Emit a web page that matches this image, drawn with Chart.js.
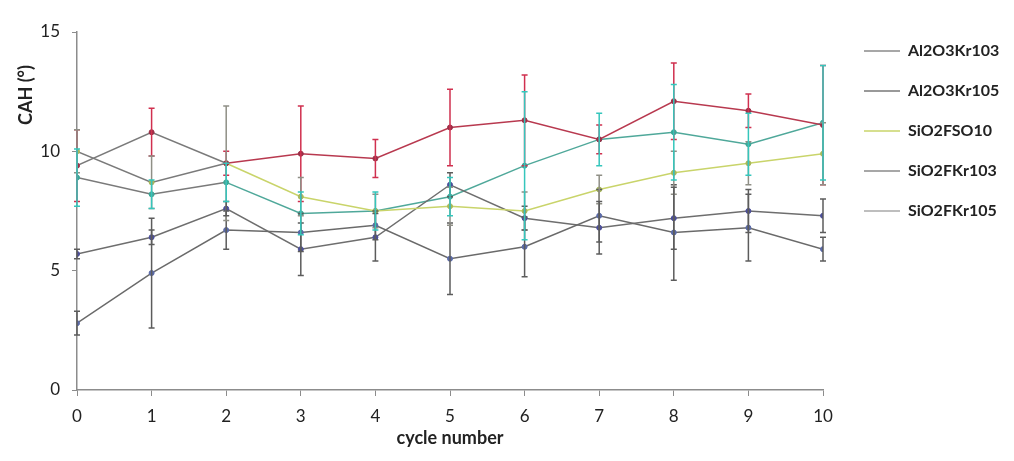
<!DOCTYPE html>
<html>
<head>
<meta charset="utf-8">
<script src="https://cdn.jsdelivr.net/npm/chart.js@4.4.0/dist/chart.umd.min.js"></script>
<style>
  html, body { margin: 0; padding: 0; background: #fff; }
</style>
</head>
<body>
<canvas id="chart" width="1014" height="461"></canvas>
<script>
// values
const cycles = [0, 1, 2, 3, 4, 5, 6, 7, 8, 9, 10];
const seriesNames = ["Al2O3Kr103", "Al2O3Kr105", "SiO2FSO10", "SiO2FKr103", "SiO2FKr105"];

const al2o3Kr103 = [2.8, 4.9, 6.7, 6.6, 6.9, 5.5, 6.0, 7.3, 6.6, 6.8, 5.9];
const al2o3Kr103Err = [0.5, 2.3, 0.8, 0.8, 0.6, 1.5, 1.25, 1.1, 2.0, 1.4, 0.5];

const al2o3Kr105 = [9.4, 10.8, 9.5, 9.9, 9.7, 11.0, 11.3, 10.5, 12.1, 11.7, 11.1];
const al2o3Kr105Err = [1.5, 1.0, 0.5, 2.0, 0.8, 1.6, 1.9, 0.6, 1.6, 0.7, 2.5];

const sio2Fso10 = [10.0, 8.7, 9.5, 8.1, 7.5, 7.7, 7.5, 8.4, 9.1, 9.5, 9.9];
const sio2Fso10Err = [0.9, 1.1, 2.4, 0.8, 0.7, 0.8, 0.8, 0.6, 0.9, 0.9, 1.3];

const sio2FKr103 = [5.7, 6.4, 7.6, 5.9, 6.4, 8.6, 7.2, 6.8, 7.2, 7.5, 7.3];
const sio2FKr103Err = [0.2, 0.3, 0.3, 1.1, 1.0, 0.5, 0.5, 1.1, 1.3, 0.9, 0.7];

const sio2FKr105 = [8.9, 8.2, 8.7, 7.4, 7.5, 8.1, 9.4, 10.5, 10.8, 10.3, 11.2];
const sio2FKr105Err = [1.2, 0.6, 0.8, 0.9, 0.8, 0.8, 3.1, 1.1, 2.0, 1.3, 2.4];

const yTicks = [0, 5, 10, 15];

const GRAY = "#7a7a7a";
const AXIS = "#8c8c8c";
const FONT = "Lato, 'Open Sans', sans-serif";

const toPoints = vals => vals.map((v, i) => ({ x: cycles[i], y: v }));

// left part of the reference is washed out to grey
const colourFrom2 = col => ({ borderColor: c => (c.p0DataIndex >= 2 ? col : GRAY) });

const errorBars = {
  id: "errorBars",
  afterDatasetsDraw(chart) {
    const ctx = chart.ctx;
    const y = chart.scales.y;
    chart.data.datasets.forEach((ds, i) => {
      const meta = chart.getDatasetMeta(i);
      ctx.save();
      ctx.strokeStyle = ds.errorColor;
      ctx.lineWidth = 1.5;
      meta.data.forEach((pt, j) => {
        const v = ds.data[j].y;
        const e = ds.errors[j];
        const top = y.getPixelForValue(v + e);
        const bot = y.getPixelForValue(v - e);
        ctx.beginPath();
        ctx.moveTo(pt.x, top);
        ctx.lineTo(pt.x, bot);
        ctx.moveTo(pt.x - 3, top);
        ctx.lineTo(pt.x + 3, top);
        ctx.moveTo(pt.x - 3, bot);
        ctx.lineTo(pt.x + 3, bot);
        ctx.stroke();
      });
      ctx.restore();
    });
  }
};

const yTitle = {
  id: "yTitle",
  afterDraw(chart) {
    const ctx = chart.ctx;
    ctx.save();
    ctx.translate(26, 95);
    ctx.rotate(-Math.PI / 2);
    ctx.font = "bold 18px " + FONT;
    ctx.fillStyle = "#222";
    ctx.textAlign = "center";
    ctx.textBaseline = "middle";
    ctx.fillText("CAH (°)", 0, 0);
    ctx.restore();
  }
};

const datasets = [
  {
    label: seriesNames[0], data: toPoints(al2o3Kr103), errors: al2o3Kr103Err,
    borderColor: "#6a6a6a", pointBackgroundColor: "#5a6aa8", pointBorderColor: "#5a6aa8",
    errorColor: "#5c5c5c", legendColor: "#8a8a8a"
  },
  {
    label: seriesNames[1], data: toPoints(al2o3Kr105), errors: al2o3Kr105Err,
    borderColor: GRAY, segment: colourFrom2("#b8394f"),
    pointBackgroundColor: "#9a3048", pointBorderColor: "#9a3048",
    errorColor: "#d0304f", legendColor: "#777777"
  },
  {
    label: seriesNames[2], data: toPoints(sio2Fso10), errors: sio2Fso10Err,
    borderColor: "#c9d46a", segment: colourFrom2("#c9d46a"),
    pointBackgroundColor: "#a8b85a", pointBorderColor: "#a8b85a",
    errorColor: "#8f8f86", legendColor: "#c9d46a"
  },
  {
    label: seriesNames[3], data: toPoints(sio2FKr103), errors: sio2FKr103Err,
    borderColor: "#6e6e6e", pointBackgroundColor: "#4c4f9a", pointBorderColor: "#4c4f9a",
    errorColor: "#5c5c5c", legendColor: "#8a8a8a"
  },
  {
    label: seriesNames[4], data: toPoints(sio2FKr105), errors: sio2FKr105Err,
    borderColor: GRAY, segment: colourFrom2("#4fa89a"),
    pointBackgroundColor: "#3aa898", pointBorderColor: "#3aa898",
    errorColor: "#35c6bc", legendColor: "#a8a8a8"
  }
].map(ds => Object.assign({ borderWidth: 1.5, pointRadius: 2.5, pointBorderWidth: 1, tension: 0 }, ds));

new Chart(document.getElementById("chart").getContext("2d"), {
  type: "line",
  data: { datasets },
  options: {
    responsive: false,
    animation: false,
    layout: { padding: { top: 0, left: 0, bottom: 0, right: 6 } },
    plugins: {
      title: { display: true, text: "", fullSize: false, padding: 0, font: { size: 32, lineHeight: 1 } },
      legend: {
        position: "right",
        align: "start",
        title: { display: true, text: " ", padding: 0, font: { size: 19, lineHeight: 1 } },
        labels: {
          usePointStyle: true,
          pointStyle: "line",
          pointStyleWidth: 36,
          padding: 24,
          color: "#222",
          font: { family: FONT, size: 16, weight: "bold" },
          generateLabels: chart => {
            const items = Chart.defaults.plugins.legend.labels.generateLabels(chart);
            items.forEach(it => {
              it.strokeStyle = chart.data.datasets[it.datasetIndex].legendColor;
              it.lineWidth = 1.5;
            });
            return items;
          }
        }
      },
      tooltip: { enabled: false }
    },
    scales: {
      x: {
        type: "linear",
        min: 0,
        max: 10,
        ticks: { stepSize: 1, padding: 10, color: "#222", font: { family: FONT, size: 17 } },
        grid: { drawOnChartArea: false, drawTicks: true, tickLength: 6, color: AXIS },
        border: { color: AXIS, width: 1.5 },
        title: {
          display: true, text: "cycle number", color: "#222",
          font: { family: FONT, size: 18, weight: "bold" }, padding: { top: 0, bottom: 12 }
        },
        afterFit: s => { s.height = 71; }
      },
      y: {
        min: 0,
        max: 15,
        afterBuildTicks: s => { s.ticks = yTicks.map(v => ({ value: v })); },
        ticks: { padding: 12, color: "#222", font: { family: FONT, size: 17 } },
        grid: { drawOnChartArea: false, drawTicks: true, tickLength: 5, color: AXIS },
        border: { color: AXIS, width: 1.5 },
        afterFit: s => { s.width = 77; }
      },
      gap: {
        position: "right",
        display: true,
        grid: { display: false },
        ticks: { display: false },
        border: { display: false },
        afterFit: s => { s.width = 17; }
      }
    }
  },
  plugins: [errorBars, yTitle]
});
</script>
</body>
</html>
